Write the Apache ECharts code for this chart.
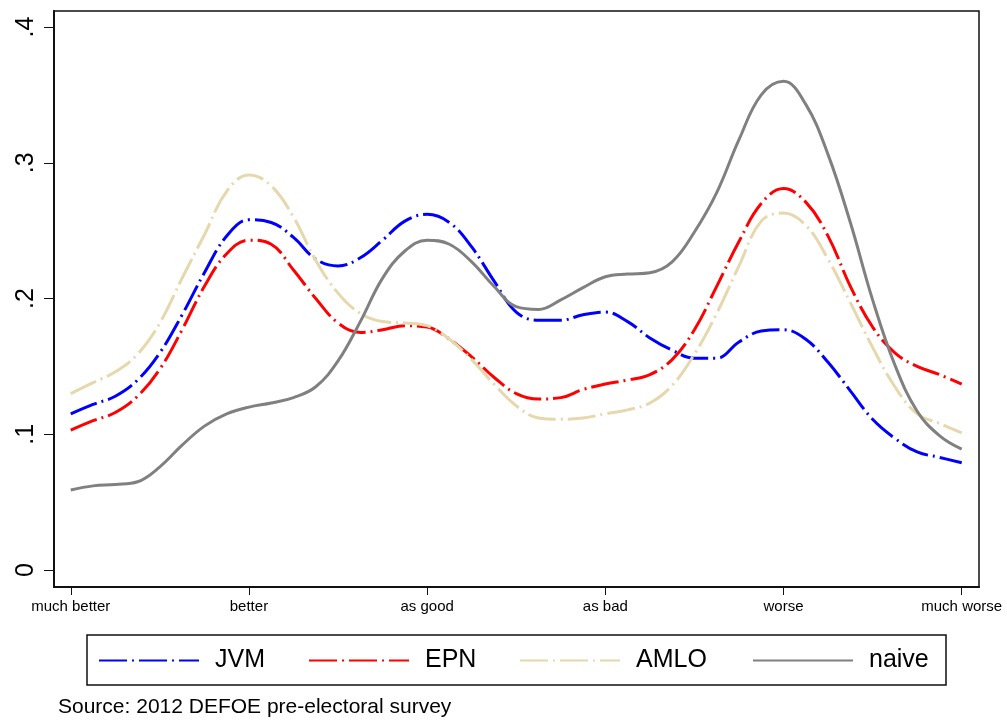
<!DOCTYPE html>
<html>
<head>
<meta charset="utf-8">
<script src="https://cdn.jsdelivr.net/npm/echarts@6/dist/echarts.min.js"></script>
<style>
html, body { margin: 0; padding: 0; background: #fff; }
#main { width: 1007px; height: 721px; }
</style>
</head>
<body>
<div id="main"></div>
<script>
// categories of the x axis (1..6)
var categories = ['much better', 'better', 'as good', 'as bad', 'worse', 'much worse'];
var yTicks = [0, 0.1, 0.2, 0.3, 0.4];
var xTicks = [1, 2, 3, 4, 5, 6];

var xs = [1, 1.125, 1.25, 1.375, 1.5, 1.625, 1.75, 1.875, 2, 2.125, 2.25, 2.375, 2.5, 2.625,
  2.75, 2.875, 3, 3.125, 3.25, 3.375, 3.5, 3.625, 3.75, 3.875, 4, 4.125, 4.25, 4.375, 4.5,
  4.625, 4.75, 4.875, 5, 5.125, 5.25, 5.375, 5.5, 5.625, 5.75, 5.875, 6];

var jvm = [0.115, 0.122, 0.128, 0.140, 0.160, 0.188, 0.219, 0.246, 0.258, 0.256, 0.245, 0.229,
  0.224, 0.230, 0.243, 0.257, 0.262, 0.256, 0.238, 0.213, 0.190, 0.184, 0.184, 0.188, 0.190,
  0.183, 0.171, 0.162, 0.156, 0.156, 0.168, 0.176, 0.177, 0.170, 0.153, 0.132, 0.111, 0.097,
  0.087, 0.083, 0.079];

var epn = [0.103, 0.110, 0.116, 0.128, 0.148, 0.177, 0.209, 0.233, 0.243, 0.240, 0.221, 0.200,
  0.182, 0.175, 0.177, 0.180, 0.179, 0.170, 0.157, 0.142, 0.130, 0.126, 0.127, 0.133, 0.137,
  0.140, 0.144, 0.155, 0.177, 0.209, 0.242, 0.270, 0.281, 0.271, 0.246, 0.209, 0.179, 0.160,
  0.150, 0.144, 0.137];

var amlo = [0.130, 0.138, 0.146, 0.159, 0.182, 0.215, 0.247, 0.279, 0.291, 0.283, 0.260, 0.228,
  0.204, 0.189, 0.183, 0.182, 0.180, 0.170, 0.155, 0.137, 0.121, 0.112, 0.111, 0.112, 0.115,
  0.118, 0.123, 0.136, 0.159, 0.189, 0.224, 0.257, 0.263, 0.254, 0.229, 0.197, 0.164, 0.135,
  0.115, 0.108, 0.101];

var naive = [0.059, 0.062, 0.063, 0.065, 0.076, 0.092, 0.106, 0.115, 0.120, 0.123, 0.127, 0.135,
  0.154, 0.183, 0.215, 0.235, 0.243, 0.240, 0.227, 0.209, 0.194, 0.192, 0.199, 0.208, 0.216,
  0.218, 0.219, 0.227, 0.249, 0.278, 0.317, 0.350, 0.360, 0.343, 0.306, 0.256, 0.199, 0.151,
  0.117, 0.099, 0.089];

function pairs(ys) {
  return xs.map(function (x, i) { return [x, ys[i]]; });
}

var font = 'Liberation Sans, Arial, Helvetica, sans-serif';
var dashDot = [28, 5, 2, 5];

function makeSeries(name, ys, color, dash) {
  return {
    name: name,
    type: 'line',
    data: pairs(ys),
    smooth: 0.4,
    symbol: 'none',
    silent: true,
    lineStyle: { color: color, width: 3, type: dash, cap: 'butt' },
    itemStyle: { color: color }
  };
}

function makeLegend(name, left) {
  return {
    data: [name],
    left: left,
    top: 648,
    itemWidth: 100,
    itemHeight: 14,
    padding: 0,
    selectedMode: false,
    itemStyle: { opacity: 0 },
    textStyle: { fontFamily: font, fontSize: 25, color: '#000', padding: [0, 0, 0, 11] }
  };
}

var myChart = echarts.init(document.getElementById('main'), null, { renderer: 'canvas' });

myChart.setOption({
  animation: false,
  backgroundColor: '#fff',
  grid: {
    left: 54, right: 28, top: 11, bottom: 134,
    show: true, borderColor: '#111', borderWidth: 1.5,
    outerBoundsMode: 'none'
  },
  xAxis: {
    type: 'value',
    min: 0.906,
    max: 6.097,
    splitLine: { show: false },
    axisLine: { show: true, onZero: false, lineStyle: { color: '#111', width: 2 } },
    axisTick: { show: true, customValues: xTicks, length: 8, lineStyle: { color: '#111', width: 1 } },
    axisLabel: {
      customValues: xTicks,
      margin: 12,
      fontFamily: font, fontSize: 15, color: '#000',
      formatter: function (v) { return categories[Math.round(v) - 1]; }
    }
  },
  yAxis: {
    type: 'value',
    min: -0.0125,
    max: 0.4118,
    splitLine: { show: false },
    axisLine: { show: true, onZero: false, lineStyle: { color: '#111', width: 2 } },
    axisTick: { show: true, customValues: yTicks, length: 10, lineStyle: { color: '#111', width: 1 } },
    axisLabel: {
      customValues: yTicks,
      rotate: 90,
      margin: 15,
      fontFamily: font, fontSize: 25, color: '#000',
      formatter: function (v) {
        return v === 0 ? '0' : v.toFixed(1).replace(/^0/, '');
      }
    }
  },
  legend: [
    makeLegend('JVM', 98),
    makeLegend('EPN', 308),
    makeLegend('AMLO', 519),
    makeLegend('naive', 752)
  ],
  title: {
    text: 'Source: 2012 DEFOE pre-electoral survey',
    left: 58,
    top: 697,
    padding: 0,
    textStyle: { fontFamily: font, fontSize: 21, fontWeight: 'normal', color: '#000' }
  },
  graphic: [{
    type: 'rect',
    shape: { x: 87, y: 635, width: 859, height: 50 },
    style: { fill: 'none', stroke: '#111', lineWidth: 1.5 },
    silent: true
  }],
  series: [
    makeSeries('JVM', jvm, '#0000ff', dashDot),
    makeSeries('EPN', epn, '#ff0000', dashDot),
    makeSeries('AMLO', amlo, '#e6d8ac', dashDot),
    makeSeries('naive', naive, '#808080', 'solid')
  ]
});
</script>
</body>
</html>
